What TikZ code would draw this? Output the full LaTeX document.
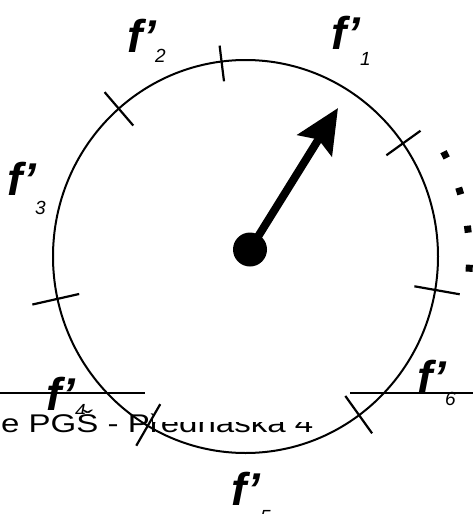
\documentclass[tikz,border=0pt]{standalone}
\usepackage{fontspec}
\setmainfont{Liberation Sans}
\newfontfamily\footfont[FakeStretch=1.29]{Liberation Sans}
\usetikzlibrary{arrows.meta}

\tikzset{
    flabel/.style={anchor=base west, inner sep=0pt, font=\bfseries\itshape\fontsize{46}{46}\selectfont},
    fsub/.style={anchor=base west, inner sep=0pt, font=\itshape\fontsize{19}{19}\selectfont},
    divtick/.style={line width=2.2pt},
    footline/.style={line width=1.5pt}
}

\begin{document}
\begin{tikzpicture}[x=1pt, y=-1pt]
    \useasboundingbox (0,0) rectangle (473,514);
    \coordinate (c) at (245.5,256.5);

    % Footer lines
    \draw[footline] (0,393) -- (145,393);
    \draw[footline] (350,393) -- (473,393);

    % Labels
    \foreach \i/\fx/\fy/\sx/\sy in {1/331/49/360/65, 2/127/52/155/62, 3/7/195/35/214,
                                    4/46/410/75/417, 5/231/505/260/523, 6/417/393/445/405} {
        \node[flabel] (f\i) at (\fx,\fy) {f’};
        \node[fsub] (s\i) at (\sx,\sy) {\i};
    }

    % Footer text
    \node[anchor=base west, inner sep=0pt, text height=18.5pt, text depth=6pt, fill=white,
          font=\footfont\fontsize{25.6}{26}\selectfont] (foot) at (1,432) {e PGŠ - Přednáška 4};
    \fill[white] (153,395) rectangle (350,421.5);

    % Circle
    \draw[line width=2pt] (c) ellipse [x radius=192.5, y radius=196.5];

    % Ticks
    \begin{scope}[shift={(c)}]
        \foreach \a/\l in {97/18, 130.6/22, 192.7/24, 240/24, 305.6/23, 350/23, 35.7/21} {
            \draw[divtick] (-\a:194.5-\l) -- (-\a:194.5+\l);
        }
        % Dots
        \foreach \a in {27,17,7,-3} {
            \node[rectangle, fill, minimum size=7pt, inner sep=0pt, rotate=\a] (d\a) at (-\a:224) {};
        }
    \end{scope}

    % Pointer
    \node[circle, fill, minimum size=34pt, inner sep=0pt] (hub) at (250,249.5) {};
    \coordinate (tip) at (338,108);
    \draw[line width=8pt, -{Stealth[length=44pt, width=40pt, inset=7pt]}] (hub.center) -- (tip);
\end{tikzpicture}
\end{document}
